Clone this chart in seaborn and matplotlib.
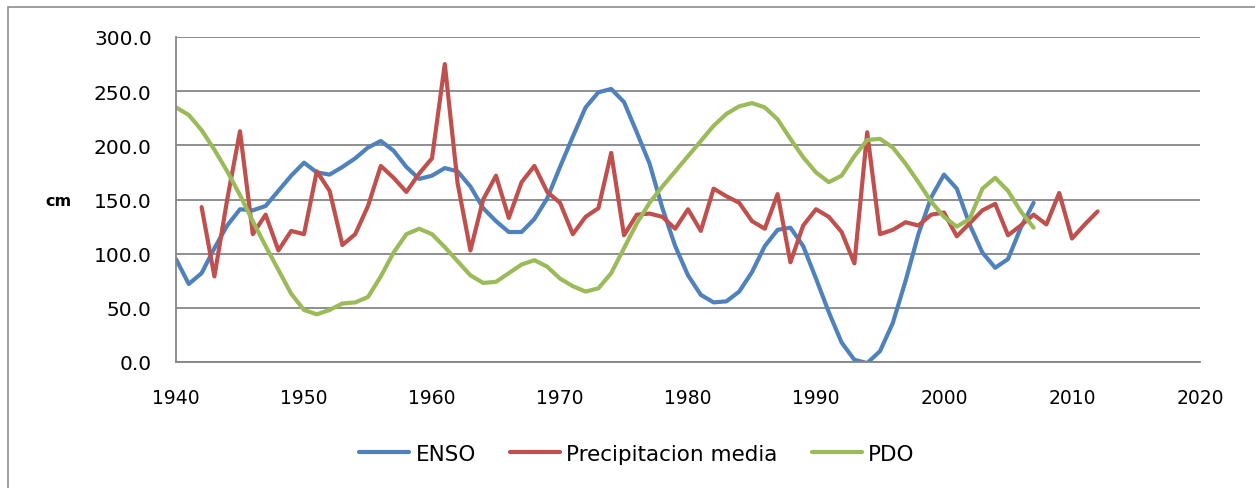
import numpy as np
import pandas as pd
import seaborn as sns
import matplotlib.pyplot as plt
from matplotlib.patches import Rectangle

# ---- data -------------------------------------------------------------
enso_years = list(range(1940, 2008))
enso_values = [95, 72, 82, 105, 126, 141, 140, 144, 158, 172,
               184, 175, 173, 180, 188, 198, 204, 195, 180, 169,
               172, 179, 176, 162, 142, 130, 120, 120, 132, 151,
               180, 208, 235, 249, 252, 240, 212, 183, 142, 107,
               80, 62, 55, 56, 65, 83, 107, 122, 124, 107,
               77, 46, 18, 2, -1, 10, 36, 75, 118, 152,
               173, 160, 127, 101, 87, 95, 124, 147]

precip_years = list(range(1942, 2013))
precip_values = [143, 79, 150, 213, 118, 136, 103, 121,
                 118, 176, 158, 108, 118, 144, 181, 170, 157, 174,
                 188, 275, 165, 103, 150, 172, 133, 166, 181, 157,
                 147, 118, 134, 142, 193, 117, 136, 137, 134, 123,
                 141, 121, 160, 153, 147, 130, 123, 155, 92, 126,
                 141, 134, 120, 91, 212, 118, 122, 129, 126, 136,
                 138, 116, 128, 140, 146, 117, 126, 136, 127, 156,
                 114, 127, 139]

pdo_years = list(range(1940, 2008))
pdo_values = [235, 228, 214, 196, 176, 154, 130, 107, 85, 63,
              48, 44, 48, 54, 55, 60, 79, 101, 118, 123,
              118, 106, 93, 80, 73, 74, 82, 90, 94, 88,
              77, 70, 65, 68, 82, 105, 128, 147, 162, 176,
              190, 204, 218, 229, 236, 239, 235, 224, 206, 189,
              175, 166, 172, 190, 205, 206, 198, 183, 166, 148,
              134, 125, 132, 160, 170, 158, 139, 124]

series_names = ["ENSO", "Precipitacion media", "PDO"]
series_colors = ["#4F81BD", "#C0504D", "#9BBB59"]
x_ticks = list(range(1940, 2021, 10))
y_ticks = list(range(0, 301, 50))

df = pd.concat([
    pd.DataFrame({"year": enso_years, "value": enso_values, "serie": series_names[0]}),
    pd.DataFrame({"year": precip_years, "value": precip_values, "serie": series_names[1]}),
    pd.DataFrame({"year": pdo_years, "value": pdo_values, "serie": series_names[2]}),
])

# ---- figure -----------------------------------------------------------
sns.set_theme(style="white")
plt.rcParams["font.family"] = ["DejaVu Sans"]
plt.rcParams["text.color"] = "black"
plt.rcParams["axes.labelcolor"] = "black"

W, H = 1255, 489
fig = plt.figure(figsize=(W / 100, H / 100), dpi=100)
left, right, top, bottom = 176, 1200, 38, 363
ax = fig.add_axes([left / W, 1 - bottom / H, (right - left) / W, (bottom - top) / H])

grid_color = "#868686"
sns.lineplot(data=df, x="year", y="value", hue="serie", hue_order=series_names,
             palette=dict(zip(series_names, series_colors)), linewidth=3.0,
             ax=ax, legend=False, solid_joinstyle="round", solid_capstyle="round")

ax.set_xlim(1940, 2020)
ax.set_ylim(0, 300)
ax.set_xticks(x_ticks)
ax.set_yticks(y_ticks)
ax.set_yticklabels([f"{v:.1f}" for v in y_ticks])
ax.yaxis.grid(True, color=grid_color, linewidth=1.3)
ax.xaxis.grid(False)
ax.set_axisbelow(True)

for side in ("top", "right"):
    ax.spines[side].set_visible(False)
for side in ("left", "bottom"):
    ax.spines[side].set_color(grid_color)
    ax.spines[side].set_linewidth(1.3)

ax.tick_params(axis="both", which="major", direction="out", length=6.5, width=1.3,
               color=grid_color, labelcolor="black")
ax.tick_params(axis="y", pad=11, labelsize=14.5)
ax.tick_params(axis="x", pad=12, labelsize=13.5)

ax.set_xlabel("")
ax.set_ylabel("cm", rotation=0, fontweight="bold", fontsize=11.5, ha="center", va="center",
              color="black")
ax.yaxis.set_label_coords((58 - left) / (right - left), (bottom - 201) / (bottom - top))

handles = [plt.Line2D([], [], color=c, linewidth=3.0) for c in series_colors]
fig.legend(handles, series_names, loc="center", bbox_to_anchor=(637 / W, 1 - 455 / H),
           ncol=3, frameon=False, fontsize=15.5, handlelength=2.3, handletextpad=0.3,
           columnspacing=1.6, labelcolor="black")

# chart-area border
fig.patches.append(Rectangle((8 / W, -0.05), 1.2, 1 - 8 / H + 0.05,
                             transform=fig.transFigure, fill=False,
                             edgecolor="#8C8C8C", linewidth=1.2))

fig.savefig("out.png", dpi=100, facecolor="white")
